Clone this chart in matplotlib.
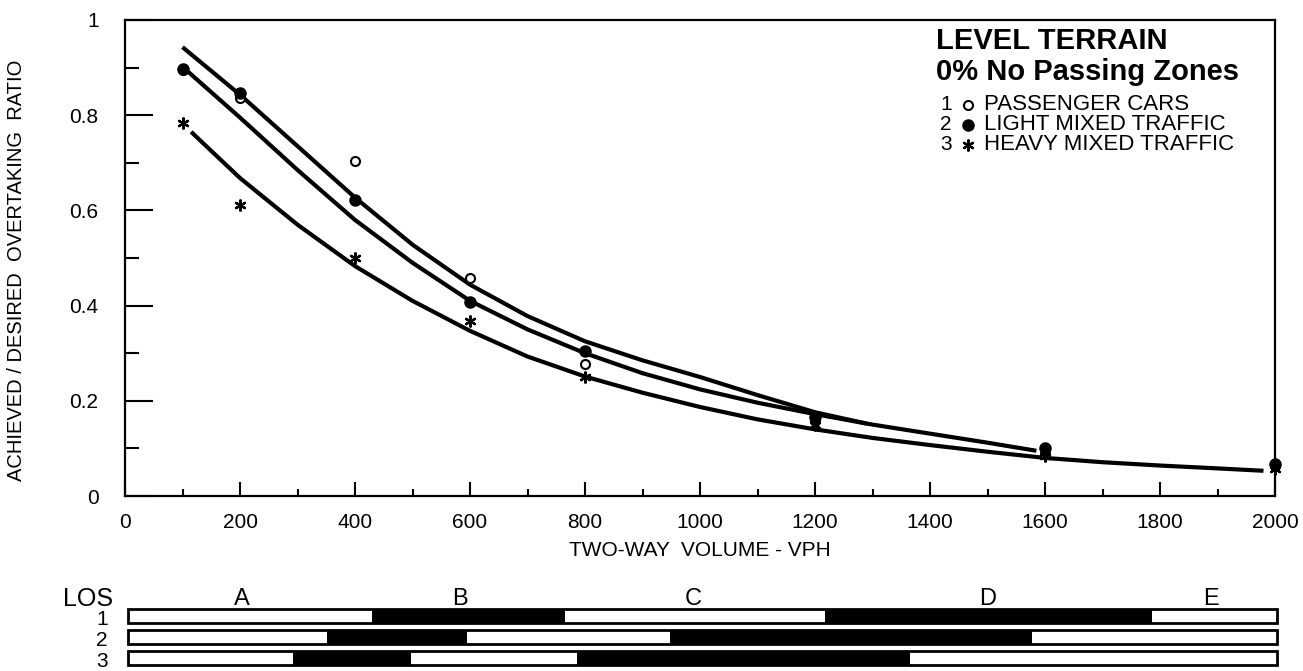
import matplotlib.pyplot as plt
from matplotlib.ticker import MultipleLocator, FuncFormatter

# observed points (two-way volume, achieved/desired ratio)
vph_pts = [100, 200, 400, 600, 800, 1200, 1600, 2000]
pc_vals = [0.895, 0.836, 0.704, 0.458, 0.277, 0.158, 0.088, 0.062]
light_vals = [0.897, 0.847, 0.622, 0.408, 0.305, 0.165, 0.100, 0.068]
heavy_vals = [0.784, 0.611, 0.500, 0.368, 0.250, 0.150, 0.085, 0.057]

# fitted curves
c1_x = [100, 200, 300, 400, 500, 600, 700, 800, 900, 1000, 1100, 1200, 1290]
c1_y = [0.943, 0.843, 0.735, 0.627, 0.528, 0.444, 0.378, 0.325, 0.285, 0.250, 0.212, 0.176, 0.152]
c2_x = [110, 200, 300, 400, 500, 600, 700, 800, 900, 1000, 1100, 1200, 1300, 1400, 1500, 1585]
c2_y = [0.891, 0.795, 0.685, 0.580, 0.490, 0.410, 0.350, 0.300, 0.258, 0.224, 0.196, 0.172, 0.150, 0.131, 0.112, 0.095]
c3_x = [115, 200, 300, 400, 500, 600, 700, 800, 900, 1000, 1100, 1200, 1300, 1400, 1500, 1600, 1700, 1800, 1900, 1980]
c3_y = [0.765, 0.668, 0.570, 0.483, 0.410, 0.347, 0.293, 0.251, 0.217, 0.187, 0.161, 0.140, 0.122, 0.107, 0.093, 0.080, 0.071, 0.064, 0.058, 0.053]

# level of service breaks (vph) per row: A|B|C|D|E
los_rows = [1, 2, 3]
los_breaks = [[430, 765, 1217, 1786],
              [351, 595, 948, 1577],
              [292, 497, 786, 1365]]
los_letters = ['A', 'B', 'C', 'D', 'E']
los_letter_x = [203, 583, 988, 1501, 1889]

legend_labels = ['PASSENGER CARS', 'LIGHT MIXED TRAFFIC', 'HEAVY MIXED TRAFFIC']

plt.rcParams['font.family'] = ['Liberation Sans', 'DejaVu Sans']
narrow = ['Liberation Sans Narrow', 'Liberation Sans']

fig = plt.figure(figsize=(13.03, 6.71), dpi=100)
ax = fig.add_axes([125/1303, 175/671, 1150/1303, 476/671])

for xs, ys in [(c1_x, c1_y), (c2_x, c2_y), (c3_x, c3_y)]:
    ax.plot(xs, ys, color='black', lw=3, solid_capstyle='butt')

pc_style = dict(marker='o', ms=6.5, mfc='white', mec='black', mew=1.5)
light_style = dict(marker='o', ms=8, mfc='black', mec='black')
heavy_style = dict(marker=(6, 2, 0), ms=8.5, mec='black', mew=1.6)
ax.plot(vph_pts, pc_vals, ls='none', clip_on=False, **pc_style)
ax.plot(vph_pts, light_vals, ls='none', clip_on=False, **light_style)
ax.plot(vph_pts, heavy_vals, ls='none', clip_on=False, **heavy_style)

ax.set_xlim(0, 2000)
ax.set_ylim(0, 1)
ax.xaxis.set_major_locator(MultipleLocator(200))
ax.xaxis.set_minor_locator(MultipleLocator(100))
ax.yaxis.set_major_locator(MultipleLocator(0.2))
ax.yaxis.set_minor_locator(MultipleLocator(0.1))
ax.yaxis.set_major_formatter(FuncFormatter(lambda v, p: '%g' % round(v, 1)))
ax.tick_params(axis='both', which='both', direction='in', top=False, right=False, width=1.5, labelsize=15)
ax.tick_params(axis='x', which='major', length=10, pad=12)
ax.tick_params(axis='x', which='minor', length=5)
ax.tick_params(axis='y', which='major', length=20, pad=19)
ax.tick_params(axis='y', which='minor', length=10)
for s in ax.spines.values():
    s.set_linewidth(1.6)

ax.set_xlabel('TWO-WAY  VOLUME - VPH', fontsize=15, va='center')
ax.xaxis.set_label_coords(0.5, -0.115)
ax.set_ylabel('ACHIEVED / DESIRED  OVERTAKING  RATIO', fontsize=14.5, va='center')
ax.yaxis.set_label_coords(-0.094, 0.475)

# legend block
ax.text(0.705, 0.955, 'LEVEL TERRAIN', transform=ax.transAxes, fontsize=21, fontweight='bold', va='center')
ax.text(0.705, 0.890, '0% No Passing Zones', transform=ax.transAxes, fontsize=21, fontweight='bold', va='center')
leg_y = [0.822, 0.780, 0.738]
leg_style = [pc_style, light_style, heavy_style]
for i in range(3):
    ax.text(0.714, leg_y[i], str(i + 1), transform=ax.transAxes, fontsize=15, va='center', ha='center')
    ax.plot([0.733], [leg_y[i]], transform=ax.transAxes, ls='none', clip_on=False, **leg_style[i])
    ax.text(0.747, leg_y[i], legend_labels[i], transform=ax.transAxes, fontsize=16, va='center')

# LOS bars
los = fig.add_axes([125/1303, 0, 1150/1303, 83/671])
los.set_xlim(0, 2000)
los.set_ylim(3.62, -0.333)
los.axis('off')
for r, b in zip(los_rows, los_breaks):
    los.barh(r, 1998, left=5, height=0.667, color='white', edgecolor='black', lw=2, clip_on=False)
    los.barh(r, b[1] - b[0], left=b[0], height=0.667, color='black')
    los.barh(r, b[3] - b[2], left=b[2], height=0.667, color='black')
    los.text(-40, r + 0.17, str(r), fontsize=15, ha='center', va='center', family=narrow)
for lx, lt in zip(los_letter_x, los_letters):
    los.text(lx, 0.17, lt, fontsize=17, ha='center', va='center', family=narrow)
los.text(-64, 0.2, 'LOS', fontsize=18, ha='center', va='center', family=narrow)

fig.savefig('out.png', dpi=100)
